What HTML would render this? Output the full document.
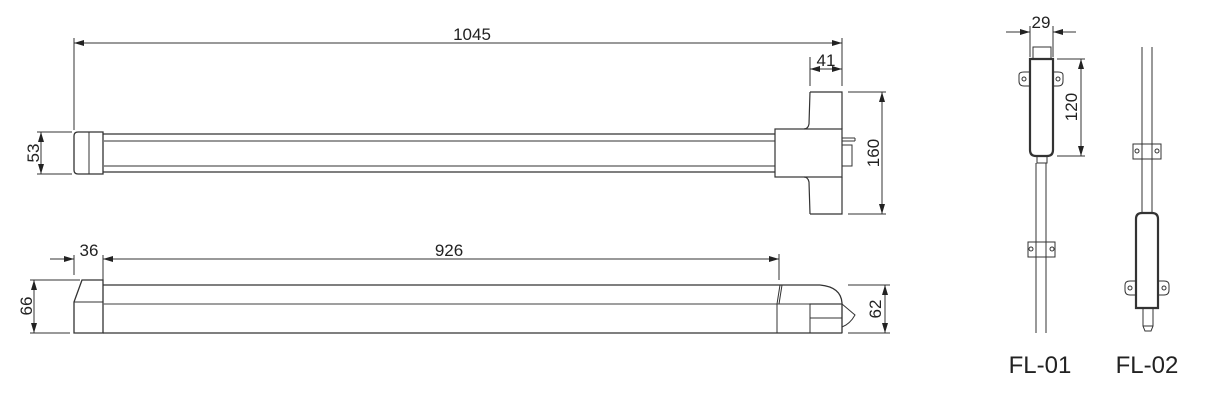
<!DOCTYPE html>
<html><head><meta charset="utf-8"><style>
html,body{margin:0;padding:0;background:#fff;}
svg{display:block}
text{font-family:"Liberation Sans",sans-serif;fill:#222}
</style></head><body>
<svg width="1218" height="406" viewBox="0 0 1218 406" xmlns="http://www.w3.org/2000/svg">
<defs>
<marker id="a" viewBox="0 0 10 6" refX="10" refY="3" markerWidth="10" markerHeight="6" orient="auto-start-reverse" markerUnits="userSpaceOnUse"><path d="M0,0 L10,3 L0,6 z" fill="#222"/></marker>
</defs>
<g stroke="#333" stroke-width="1" fill="none">
<line x1="74" y1="38" x2="74" y2="130"/>
<line x1="842" y1="38" x2="842" y2="86"/>
<line x1="74" y1="43" x2="842" y2="43" marker-start="url(#a)" marker-end="url(#a)"/>
<line x1="810" y1="57" x2="810" y2="86"/>
<line x1="810" y1="69" x2="842" y2="69" marker-start="url(#a)" marker-end="url(#a)"/>
<path d="M78,132 H103 V174 H78 Q74,174 74,170 V136 Q74,132 78,132 Z" stroke-width="1.3"/>
<line x1="89" y1="132" x2="89" y2="174"/>
<line x1="103" y1="134" x2="775" y2="134" stroke-width="1.3"/>
<line x1="103" y1="141" x2="775" y2="141" stroke="#777" stroke-width="1.5"/>
<line x1="103" y1="166" x2="775" y2="166" stroke="#777" stroke-width="1.5"/>
<line x1="103" y1="172" x2="775" y2="172" stroke-width="1.3"/>
<line x1="37" y1="132" x2="72" y2="132"/>
<line x1="37" y1="174" x2="72" y2="174"/>
<line x1="41" y1="132" x2="41" y2="174" marker-start="url(#a)" marker-end="url(#a)"/>
<rect x="775" y="129" width="67" height="48" stroke-width="1.2"/>
<path d="M810,92 H842 V129 M810,92 L809,124 Q808,129 804,129" stroke-width="1.2"/>
<path d="M810,214 H842 V177 M810,214 L809,182 Q808,177 804,177" stroke-width="1.2"/>
<rect x="842" y="145" width="10" height="21"/>
<line x1="842" y1="138" x2="855" y2="138"/>
<line x1="842" y1="141" x2="855" y2="141"/>
<line x1="855" y1="138" x2="855" y2="141"/>
<line x1="848" y1="92" x2="886" y2="92"/>
<line x1="848" y1="214" x2="886" y2="214"/>
<line x1="882" y1="92" x2="882" y2="214" marker-start="url(#a)" marker-end="url(#a)"/>
<line x1="74" y1="255" x2="74" y2="275"/>
<line x1="103" y1="255" x2="103" y2="280"/>
<line x1="779" y1="254" x2="779" y2="280"/>
<line x1="50" y1="259" x2="74" y2="259" marker-end="url(#a)"/>
<line x1="103" y1="259" x2="779" y2="259" marker-start="url(#a)" marker-end="url(#a)"/>
<path d="M82,280 H103 V333 H74 V302 Z" stroke-width="1.3"/>
<line x1="74" y1="302" x2="103" y2="302"/>
<line x1="103" y1="285" x2="820" y2="285" stroke-width="1.3"/>
<line x1="103" y1="304" x2="842" y2="304" stroke="#666" stroke-width="1.3"/>
<line x1="103" y1="333" x2="842" y2="333" stroke-width="1.3"/>
<path d="M820,285 Q841,287 842,303 V333" stroke-width="1.3"/>
<path d="M842,304 L855,315 Q850,324 842,327"/>
<line x1="780" y1="285" x2="777" y2="304"/>
<line x1="782" y1="285" x2="779" y2="304"/>
<line x1="777" y1="304" x2="777" y2="333"/>
<rect x="810" y="304" width="32" height="29"/>
<line x1="810" y1="318" x2="842" y2="318"/>
<line x1="30" y1="280" x2="80" y2="280"/>
<line x1="30" y1="333" x2="70" y2="333"/>
<line x1="34" y1="280" x2="34" y2="333" marker-start="url(#a)" marker-end="url(#a)"/>
<line x1="848" y1="285" x2="890" y2="285"/>
<line x1="848" y1="333" x2="890" y2="333"/>
<line x1="885" y1="285" x2="885" y2="333" marker-start="url(#a)" marker-end="url(#a)"/>

<line x1="1030" y1="26" x2="1030" y2="57"/>
<line x1="1053" y1="26" x2="1053" y2="57"/>
<line x1="1006" y1="32" x2="1030" y2="32" marker-end="url(#a)"/>
<line x1="1076" y1="32" x2="1053" y2="32" marker-end="url(#a)"/>
<rect x="1033" y="47" width="18" height="12"/>
<path d="M1019,75 Q1019,72 1024,72 H1030 V86 H1024 Q1019,86 1019,81 Z"/>
<circle cx="1024" cy="79" r="2"/>
<path d="M1063,75 Q1063,72 1058,72 H1053 V86 H1058 Q1063,86 1063,81 Z"/>
<circle cx="1058" cy="79" r="2"/>
<path d="M1030,59 H1053 V150 Q1053,156 1047,156 H1036 Q1030,156 1030,150 Z" stroke-width="2.2"/>
<line x1="1057" y1="59" x2="1085" y2="59"/>
<line x1="1057" y1="156" x2="1085" y2="156"/>
<line x1="1081" y1="59" x2="1081" y2="156" marker-start="url(#a)" marker-end="url(#a)"/>
<rect x="1037" y="156" width="10" height="7"/>
<line x1="1036" y1="163" x2="1036" y2="333"/>
<line x1="1046" y1="163" x2="1046" y2="333"/>
<rect x="1028" y="242" width="27" height="15" fill="#fff"/>
<line x1="1036" y1="242" x2="1036" y2="257"/>
<line x1="1046" y1="242" x2="1046" y2="257"/>
<circle cx="1031" cy="249" r="2"/>
<circle cx="1052" cy="249" r="2"/>

<line x1="1142" y1="47" x2="1142" y2="213"/>
<line x1="1152" y1="47" x2="1152" y2="213"/>
<rect x="1133" y="144" width="28" height="15" fill="#fff"/>
<line x1="1142" y1="144" x2="1142" y2="159"/>
<line x1="1152" y1="144" x2="1152" y2="159"/>
<circle cx="1137" cy="151" r="2"/>
<circle cx="1157" cy="151" r="2"/>
<path d="M1125,285 Q1125,281 1130,281 H1136 V295 H1130 Q1125,295 1125,290 Z"/>
<circle cx="1130" cy="288" r="2"/>
<path d="M1169,285 Q1169,281 1164,281 H1158 V295 H1164 Q1169,295 1169,290 Z"/>
<circle cx="1164" cy="288" r="2"/>
<path d="M1136,308 V219 Q1136,213 1142,213 H1152 Q1158,213 1158,219 V308 Z" stroke-width="2.2"/>
<path d="M1143,308 V326 L1145,331 H1151 L1153,326 V308"/>
<line x1="1143" y1="326" x2="1153" y2="326"/>
</g>
<g font-size="17">
<text x="472" y="40" text-anchor="middle">1045</text>
<text x="826" y="66" text-anchor="middle">41</text>
<text x="449" y="256" text-anchor="middle">926</text>
<text x="89" y="256" text-anchor="middle">36</text>
<text x="1041" y="28" text-anchor="middle">29</text>
<text transform="translate(39,153) rotate(-90)" text-anchor="middle">53</text>
<text transform="translate(32,306) rotate(-90)" text-anchor="middle">66</text>
<text transform="translate(879,153) rotate(-90)" text-anchor="middle">160</text>
<text transform="translate(881,309) rotate(-90)" text-anchor="middle">62</text>
<text transform="translate(1077,107) rotate(-90)" text-anchor="middle">120</text>
</g>
<g font-size="24">
<text x="1040" y="373" text-anchor="middle">FL-01</text>
<text x="1147" y="373" text-anchor="middle">FL-02</text>
</g>
</svg>
</body></html>
